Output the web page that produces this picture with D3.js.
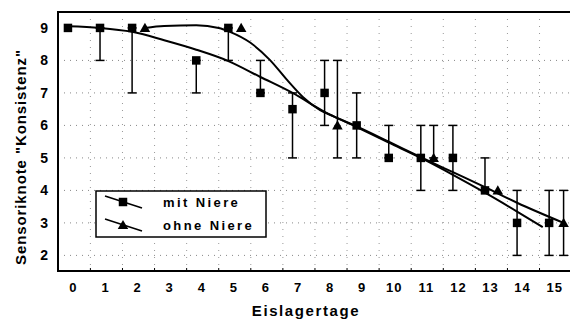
<!DOCTYPE html>
<html>
<head>
<meta charset="utf-8">
<script src="https://cdn.jsdelivr.net/npm/d3@7"></script>
<style>
  body { margin: 0; background: #fff; }
  text { font-family: "Liberation Sans", Arial, sans-serif; font-weight: bold; fill: #000; }
</style>
</head>
<body>
<div id="chart"></div>
<script>
// tick values on both axes
var xTicks = [0, 1, 2, 3, 4, 5, 6, 7, 8, 9, 10, 11, 12, 13, 14, 15];
var yTicks = [2, 3, 4, 5, 6, 7, 8, 9];

// measured points "mit Niere": day, score, error bar low, error bar high
var mitDays = [0, 1, 2, 4, 5, 6, 7, 8, 9, 10, 11, 12, 13, 14, 15];
var mitScore = [9, 9, 9, 8, 9, 7, 6.5, 7, 6, 5, 5, 5, 4, 3, 3];
var mitLow = [9, 8, 7, 7, 8, 7, 5, 6, 5, 5, 4, 4, 4, 2, 2];
var mitHigh = [9, 9, 9, 8, 9, 8, 7, 8, 7, 6, 6, 6, 5, 4, 4];

// measured points "ohne Niere" (plotted slightly right of the day)
var ohneDays = [2.4, 5.4, 8.4, 11.4, 13.4, 15.45];
var ohneScore = [9, 9, 6, 5, 4, 3];
var ohneLow = [9, 9, 5, 5, 4, 2];
var ohneHigh = [9, 9, 8, 6, 4, 4];

// fitted curves
var mitFitX = [0, 1, 2, 3, 4, 5, 6, 7, 8, 9, 10, 11, 12, 13, 14, 14.8];
var mitFitY = [9.05, 9.0, 8.88, 8.62, 8.33, 7.98, 7.49, 7.0, 6.42, 5.95, 5.47, 5.0, 4.48, 3.93, 3.35, 2.87];
var ohneFitX = [2.4, 3, 4, 4.7, 5.05, 5.68, 6.3, 6.83, 7.33, 7.86, 8.3, 9, 10, 11, 12, 13, 14, 15.45];
var ohneFitY = [9.0, 9.06, 9.08, 9.0, 8.88, 8.55, 8.01, 7.4, 6.87, 6.47, 6.27, 5.97, 5.5, 5.02, 4.56, 4.1, 3.62, 3.0];

var legendNames = ["mit Niere", "ohne Niere"];

window.onload = function() {
  var w = 570, h = 322;
  var svg = d3.select("#chart").append("svg")
    .attr("width", w)
    .attr("height", h);

  var x = d3.scaleLinear().domain([-0.31, 15.65]).range([58, 570]);
  var y = d3.scaleLinear().domain([1.52, 9.49]).range([271, 12]);

  // dotted grid (vertical lines sit a bit right of the day ticks in the original)
  svg.append("g").selectAll("line").data(yTicks.slice(0, -1)).enter().append("line")
    .attr("x1", x.range()[0]).attr("x2", x.range()[1])
    .attr("y1", function(d) { return y(d); }).attr("y2", function(d) { return y(d); })
    .attr("stroke", "#888").attr("stroke-width", 1).attr("stroke-dasharray", "1,5");
  svg.append("g").selectAll("line").data(xTicks).enter().append("line")
    .attr("x1", function(d) { return x(d + 0.7); }).attr("x2", function(d) { return x(d + 0.7); })
    .attr("y1", y.range()[1]).attr("y2", y.range()[0])
    .attr("stroke", "#999").attr("stroke-width", 1).attr("stroke-dasharray", "1,6");

  // frame: left, top and bottom lines
  svg.append("path")
    .attr("d", "M570," + y.range()[1] + "H" + x.range()[0] + "V" + y.range()[0] + "H570")
    .attr("fill", "none").attr("stroke", "#000").attr("stroke-width", 2);

  // small ticks inside the bottom axis
  svg.append("g").selectAll("line").data(xTicks).enter().append("line")
    .attr("x1", function(d) { return x(d + 0.7); }).attr("x2", function(d) { return x(d + 0.7); })
    .attr("y1", y.range()[0]).attr("y2", y.range()[0] - 3)
    .attr("stroke", "#000").attr("stroke-width", 1);

  // axes (labels only)
  var gx = svg.append("g")
    .attr("transform", "translate(0," + y.range()[0] + ")")
    .call(d3.axisBottom(x).tickValues(xTicks).tickSize(0).tickPadding(12));
  gx.select(".domain").remove();
  gx.selectAll("text")
    .attr("dx", 5)
    .style("font-size", "13px").style("letter-spacing", "1px")
    .style("font-family", "'Liberation Sans', Arial, sans-serif").style("font-weight", "bold");

  var gy = svg.append("g")
    .attr("transform", "translate(" + x.range()[0] + ",0)")
    .call(d3.axisLeft(y).tickValues(yTicks).tickSize(0).tickPadding(10));
  gy.select(".domain").remove();
  gy.selectAll("text")
    .style("font-size", "14px")
    .style("font-family", "'Liberation Sans', Arial, sans-serif").style("font-weight", "bold");

  // axis titles
  svg.append("text")
    .attr("x", 306).attr("y", 316)
    .attr("text-anchor", "middle")
    .style("font-size", "15px").style("letter-spacing", "1.6px")
    .text("Eislagertage");
  svg.append("text")
    .attr("transform", "translate(26,157) rotate(-90)")
    .attr("text-anchor", "middle")
    .style("font-size", "15px").style("letter-spacing", "0.9px")
    .text("Sensoriknote \"Konsistenz\"");

  // fitted curves
  var line = d3.line()
    .x(function(d) { return x(d[0]); })
    .y(function(d) { return y(d[1]); })
    .curve(d3.curveMonotoneX);
  var fits = [d3.zip(mitFitX, mitFitY), d3.zip(ohneFitX, ohneFitY)];
  svg.append("g").selectAll("path").data(fits).enter().append("path")
    .attr("d", line)
    .attr("fill", "none").attr("stroke", "#000").attr("stroke-width", 2);

  // error bars with caps
  function errorBars(days, low, high) {
    var g = svg.append("g").attr("stroke", "#000").attr("stroke-width", 1.5);
    days.forEach(function(d, i) {
      if (low[i] === high[i]) return;
      g.append("line")
        .attr("x1", x(d)).attr("x2", x(d))
        .attr("y1", y(low[i])).attr("y2", y(high[i]));
      [low[i], high[i]].forEach(function(v) {
        g.append("line")
          .attr("x1", x(d) - 4.5).attr("x2", x(d) + 4.5)
          .attr("y1", y(v)).attr("y2", y(v));
      });
    });
  }
  errorBars(mitDays, mitLow, mitHigh);
  errorBars(ohneDays, ohneLow, ohneHigh);

  // markers
  var square = d3.symbol().type(d3.symbolSquare).size(72);
  var triangle = d3.symbol().type(d3.symbolTriangle).size(48);
  svg.append("g").selectAll("path").data(d3.zip(mitDays, mitScore)).enter().append("path")
    .attr("d", square)
    .attr("transform", function(d) { return "translate(" + x(d[0]) + "," + y(d[1]) + ")"; })
    .attr("fill", "#000");
  svg.append("g").selectAll("path").data(d3.zip(ohneDays, ohneScore)).enter().append("path")
    .attr("d", triangle)
    .attr("transform", function(d) { return "translate(" + x(d[0]) + "," + (y(d[1]) + 1) + ")"; })
    .attr("fill", "#000");

  // legend box
  var lg = svg.append("g");
  lg.append("rect")
    .attr("x", 96).attr("y", 191).attr("width", 170).attr("height", 46)
    .attr("fill", "#fff").attr("stroke", "#000").attr("stroke-width", 1.5);
  legendNames.forEach(function(name, i) {
    var yy = 202 + i * 23;
    lg.append("line")
      .attr("x1", 105).attr("y1", yy - 6).attr("x2", 142).attr("y2", yy + 6)
      .attr("stroke", "#000").attr("stroke-width", 1.5);
    lg.append("path")
      .attr("d", i === 0 ? square : triangle)
      .attr("transform", "translate(123," + (yy + (i === 0 ? 0 : 1)) + ")")
      .attr("fill", "#000");
    lg.append("text")
      .attr("x", 163).attr("y", yy + 5)
      .style("font-size", "13px").style("letter-spacing", "2.4px")
      .text(name);
  });
};
</script>
</body>
</html>
